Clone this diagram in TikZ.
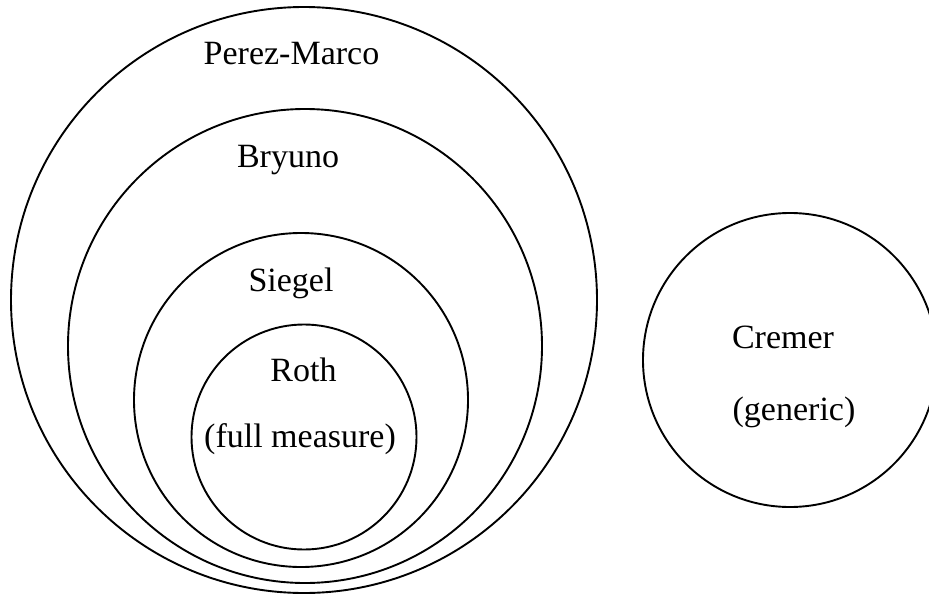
\documentclass[tikz,border=0pt]{standalone}
\usepackage{fontspec}
\setmainfont{Liberation Serif}
\begin{document}
\begin{tikzpicture}[x=1pt,y=-1pt,
  ring/.style={circle, draw=black, line width=1.9pt, inner sep=0pt, minimum size=#1},
  lbl/.style={anchor=base, inner sep=0pt, font=\fontsize{34}{40}\selectfont}]
\useasboundingbox (0,0) rectangle (929,597);
\clip (0,0) rectangle (929,597);
\fill[white] (0,0) rectangle (929,597);
\node[ring=586pt] (pm) at (304,300) {};
\node[ring=474pt] (br) at (305,346) {};
\node[ring=334pt] (si) at (301,400) {};
\node[ring=225pt] (ro) at (304,437) {};
\node[ring=294pt] (cr) at (790,360) {};
\node[lbl] (tpm) at (291.5,64) {Perez-Marco};
\node[lbl] (tbr) at (288,167) {Bryuno};
\node[lbl] (tsi) at (291,291) {Siegel};
\node[lbl] (tro) at (303.5,381) {Roth};
\node[lbl] (tfm) at (300,447) {(full measure)};
\node[lbl] (tcr) at (783,348) {Cremer};
\node[lbl] (tge) at (794,420) {(generic)};
\end{tikzpicture}
\end{document}
